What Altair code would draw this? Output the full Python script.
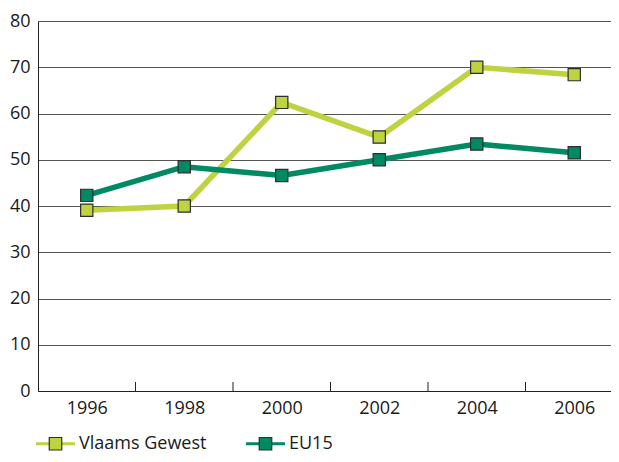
import altair as alt
import pandas as pd

years = [1996, 1998, 2000, 2002, 2004, 2006]
vlaams = [39.1, 40.0, 62.4, 54.9, 70.0, 68.4]
eu15 = [42.3, 48.5, 46.6, 50.0, 53.4, 51.5]
series_names = ["Vlaams Gewest", "EU15"]
series_colors = ["#bfd341", "#008a63"]
y_ticks = [0, 10, 20, 30, 40, 50, 60, 70, 80]
boundaries = [1997, 1999, 2001, 2003, 2005]

FONT = "Open Sans"
FS = 18
W, H = 573, 370

rows = []
for name, vals in zip(series_names, [vlaams, eu15]):
    for yr, v in zip(years, vals):
        rows.append({"year": yr, "value": v, "series": name})
df = pd.DataFrame(rows)
bdf = pd.DataFrame({"b": boundaries})

xscale = alt.Scale(domain=[1995, 2006.754], nice=False, zero=False)
yscale = alt.Scale(domain=[0, 80], nice=False)
cscale = alt.Scale(domain=series_names, range=series_colors)

x_enc = alt.X("year:Q", scale=xscale,
              axis=alt.Axis(values=years, format="d", tickSize=0, labelPadding=8,
                            grid=False, domainColor="#222", labelFontSize=FS,
                            labelFont=FONT, labelColor="#1a1a1a", title=None,
                            labelFlush=False))
y_enc = alt.Y("value:Q", scale=yscale,
              axis=alt.Axis(values=y_ticks, grid=True, gridColor="#555", gridWidth=1,
                            tickSize=0, labelPadding=8, domainColor="#222",
                            labelFontSize=FS, labelFont=FONT, labelColor="#1a1a1a",
                            title=None))

LX, LY, CP = -3, 402, 38
LABEL_W = 126  # approximate rendered width of the first legend label
common_legend = dict(orient="none", legendX=LX, legendY=LY, direction="horizontal",
                     title=None, symbolSize=1521, symbolStrokeWidth=1.2,
                     labelFontSize=FS, labelFont=FONT,
                     labelOffset=3, labelColor="#1a1a1a", symbolOpacity=1)

lines = alt.Chart(df).mark_line(strokeWidth=5.5).encode(
    x=x_enc, y=y_enc,
    color=alt.Color("series:N", scale=cscale, sort=series_names, legend=None),
)

# invisible layer that only provides the line part of the legend symbols
legend_lines = alt.Chart(df).mark_point(shape="square", filled=True, opacity=0).encode(
    x=alt.X("year:Q", scale=xscale),
    y=alt.Y("value:Q", scale=yscale),
    fill=alt.Fill("series:N", scale=cscale, sort=series_names,
                  legend=alt.Legend(symbolType="M-1,-0.072L-0.3,-0.072L-0.3,0.072L-1,0.072Z"
                                               "M0.3,-0.072L1,-0.072L1,0.072L0.3,0.072Z",
                                    symbolStrokeColor="transparent", labelExpr="''",
                                    columnPadding=CP + LABEL_W, **common_legend)),
)

points = alt.Chart(df).mark_point(shape="square", filled=True, size=150, opacity=1,
                                  stroke="#2d2d2d", strokeWidth=1.2).encode(
    x=alt.X("year:Q", scale=xscale),
    y=alt.Y("value:Q", scale=yscale),
    fill=alt.Fill("series:N", scale=cscale, sort=series_names,
                  legend=alt.Legend(symbolType="M-0.32,-0.32L0.32,-0.32L0.32,0.32L-0.32,0.32Z",
                                    symbolStrokeColor="#2d2d2d", columnPadding=CP,
                                    **common_legend)),
)

ticks = alt.Chart(bdf).mark_rule(color="#222", strokeWidth=1).encode(
    x=alt.X("b:Q", scale=xscale),
    y=alt.value(H), y2=alt.value(H - 9),
)

chart = alt.layer(ticks, lines, legend_lines, points).resolve_scale(
    color="independent", fill="independent"
).resolve_legend(color="independent", fill="independent").properties(
    width=W, height=H,
    autosize=alt.AutoSizeParams(type="none"),
    padding={"left": 30, "top": 13, "right": 0, "bottom": 63},
    background="white",
).configure_view(stroke=None)

chart.save("out.html", embed_options={"renderer": "svg", "actions": False})
